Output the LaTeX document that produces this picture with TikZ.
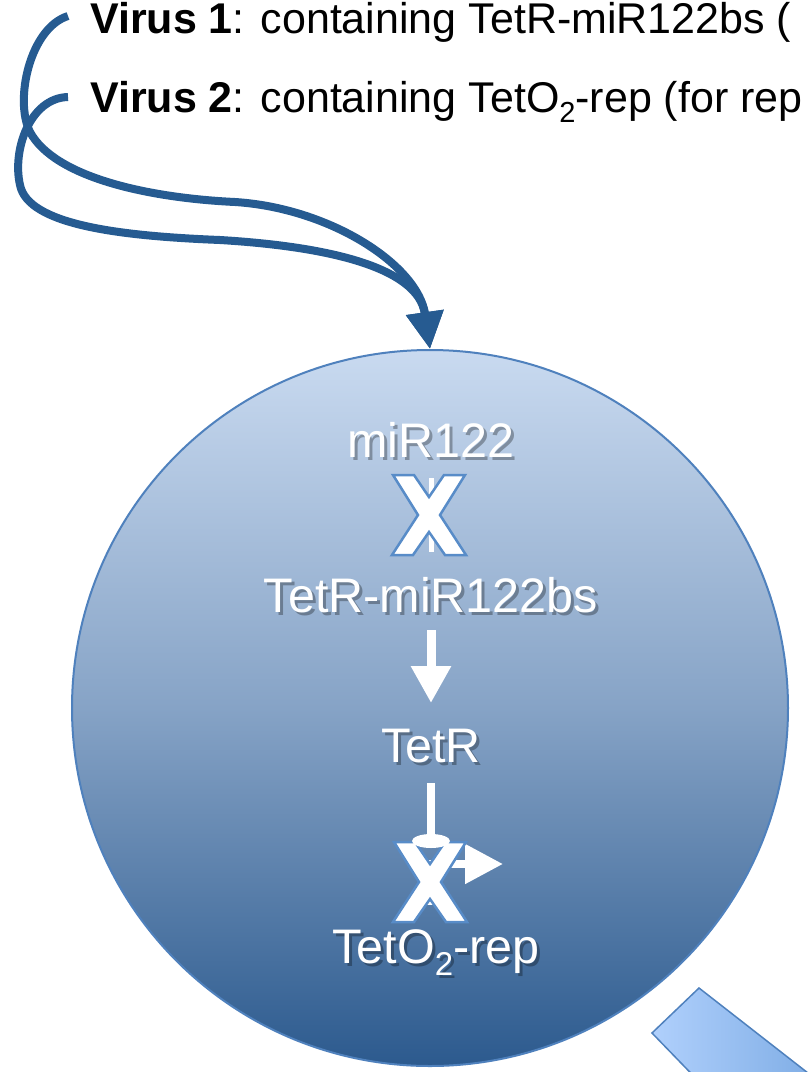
\documentclass[tikz,border=0pt]{standalone}
\usepackage{fontspec}
\setmainfont{Liberation Sans}
\usetikzlibrary{arrows.meta,calc}
\definecolor{curveblue}{RGB}{38,91,145}
\definecolor{rimblue}{RGB}{79,129,189}
\definecolor{celltop}{RGB}{201,218,240}
\definecolor{cellmid}{RGB}{134,163,198}
\definecolor{cellbot}{RGB}{44,90,142}
\definecolor{xrim}{RGB}{88,140,200}
\definecolor{blocklight}{RGB}{176,208,252}
\definecolor{blockdark}{RGB}{120,168,226}
\newcommand\lowtwo[2]{\raisebox{-#2}{\fontsize{#1}{#1}\selectfont 2}}
\newcommand\celllabel[3]{%
  \node[celltext,text=black,opacity=0.3] at ($(#2)+(3,3)$) {#3};
  \node[celltext] (#1) at (#2) {#3};}
\begin{document}
\begin{tikzpicture}[x=1pt,y=-1pt,
  virustext/.style={font=\fontsize{43}{46}\selectfont, anchor=base west, inner sep=0, text=black},
  celltext/.style={font=\fontsize{48.5}{50}\selectfont, anchor=base, inner sep=0, text=white},
  virusline/.style={draw=curveblue, line width=8, -{Triangle[width=36pt,length=37pt]}},
  whiteline/.style={draw=white, line width=8},
  xmarkstyle/.style={fill=white, draw=xrim, line width=2.5, line join=miter},
  xmark/.pic={\path[xmarkstyle] (-36,-40) -- (-15,-40) -- (0,-18) -- (15,-40) -- (36,-40) -- (11,0) -- (37,40) -- (16,40) -- (0,17) -- (-16,40) -- (-37,40) -- (-11,0) -- cycle;},
]
\useasboundingbox (0,0) rectangle (807,1072);
\fill[white] (0,0) rectangle (807,1072);

% cell
\node[circle, minimum size=716, inner sep=0, draw=rimblue, line width=2,
      top color=celltop, bottom color=cellbot, middle color=cellmid] (cell) at (430,708) {};

% block arrow at bottom right
\draw[draw=rimblue, line width=1.5, left color=blocklight, right color=blockdark]
  (652,1033) -- (699,988) -- (840,1098) -- (711,1094) -- cycle;

% virus texts
\node[virustext] (v1) at (90,33) {\textbf{Virus 1}: containing TetR-miR122bs (};
\node[virustext] (v2) at (90,112) {\textbf{Virus 2}: containing TetO\lowtwo{29}{10pt}-rep (for rep};

\coordinate (c1) at (68,16);
\coordinate (c2) at (68,97);
\draw[virusline] (c1) .. controls (30,28) and (14,100) .. (30,132)
  .. controls (55,178) and (150,198) .. (235,202)
  .. controls (330,208) and (418,265) .. (cell.north);
\draw[virusline] (c2) .. controls (30,98) and (12,150) .. (20,185)
  .. controls (28,225) and (120,236) .. (220,240)
  .. controls (320,246) and (418,265) .. (cell.north);

% labels in the cell
\celllabel{m}{431,457}{miR122}
\celllabel{tb}{431,612}{TetR-miR122bs}
\celllabel{t}{431,762}{TetR}
\celllabel{to}{436,963}{TetO\lowtwo{33}{12pt}-rep}

% miR122 -| TetR-miR122bs (blocked)
\draw[white, line width=5] ($(m.base)+(0,21)$) -- ($(tb.base)+(0,-60)$);
\pic at (429,515) {xmark};

% TetR-miR122bs -> TetR
\draw[white, line width=9, -{Triangle[width=38pt,length=37pt]}] ($(tb.base)+(0,18)$) -- ($(t.base)+(0,-59)$);

% TetR -| promoter
\draw[whiteline] ($(t.base)+(0,21)$) -- ($(t.base)+(0,74)$);
\draw[white, line width=8, -{Triangle[width=38pt,length=38pt]}] ($(to.base)+(-5,-58)$) |- ($(to.base)+(67,-99)$);
\pic at (430,882) {xmark};
\fill[white] ($(t.base)+(0,79)$) ellipse [x radius=19, y radius=7];
\end{tikzpicture}
\end{document}
